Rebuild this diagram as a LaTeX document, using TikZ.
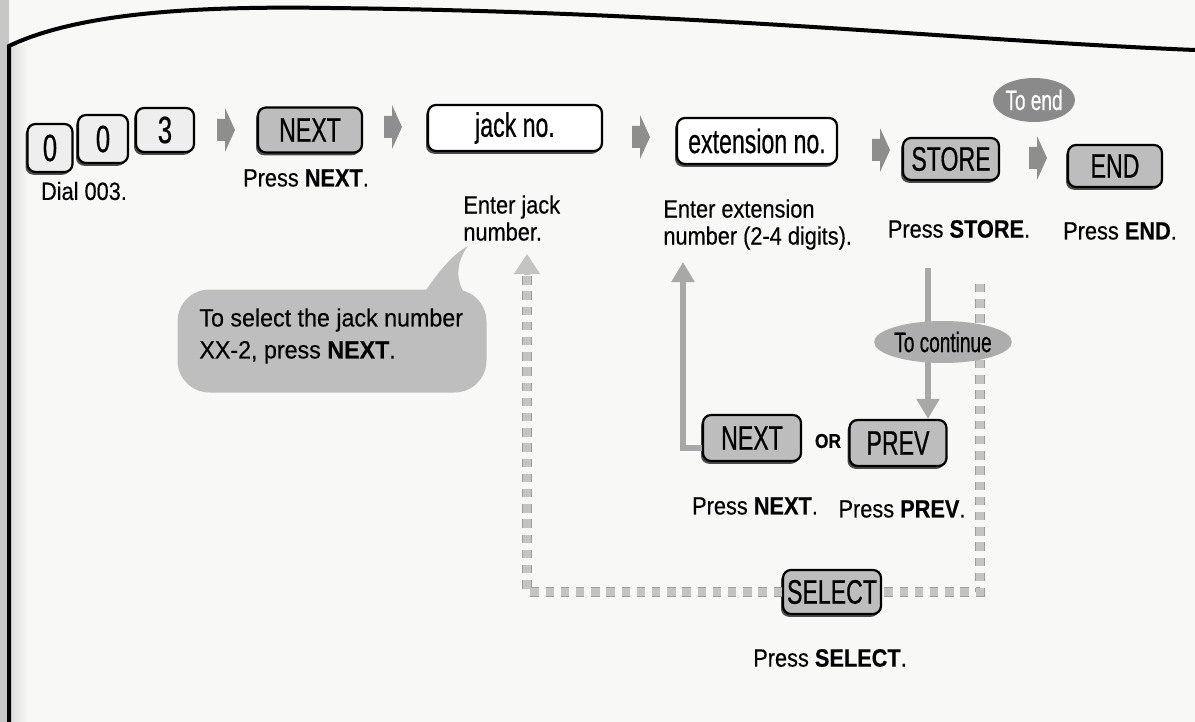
\documentclass[tikz,border=0pt]{standalone}
\usepackage{fontspec}
\setmainfont{Liberation Sans}[FakeStretch=0.87,FakeBold=0.3]
\newfontfamily\bubblefont{Liberation Sans}[FakeStretch=0.93,FakeBold=0.3]
\newfontfamily\btnfont{Liberation Sans}[FakeStretch=0.68,FakeBold=0.5]
\usetikzlibrary{shadows,shapes.geometric,arrows.meta,calc}
\definecolor{btngray}{HTML}{BDBDBD}
\definecolor{keyfill}{HTML}{EEEEEE}
\definecolor{arrowgray}{HTML}{8E8E8E}
\definecolor{pagebg}{HTML}{F8F8F6}
\definecolor{dashgray}{HTML}{C4C4C4}
\definecolor{dashedge}{HTML}{9E9E9E}
\definecolor{bubblegray}{HTML}{BEBEBE}
\definecolor{ovalgray}{HTML}{8A8A8A}
\definecolor{contgray}{HTML}{ADADAD}
\definecolor{solidgray}{HTML}{A8A8A8}
\newcommand\flowarr[1]{%
  \fill[arrowgray] ($#1+(-9,-11)$) -- ($#1+(-1,-11)$) -- ($#1+(-1,-22)$) -- ($#1+(9,0)$)
    -- ($#1+(-1,22)$) -- ($#1+(-1,11)$) -- ($#1+(-9,11)$) -- cycle;}
\tikzset{
  key/.style={draw=black, line width=1.1pt, rounded corners=4pt, fill=keyfill, inner sep=0pt,
    drop shadow={shadow xshift=-1pt, shadow yshift=-1.4pt, fill=black!70, opacity=1},
    font=\btnfont\fontsize{19}{21}\selectfont},
  btn/.style={key, fill=btngray, font=\btnfont\fontsize{17}{19}\selectfont},
  field/.style={key, fill=white, font=\btnfont\fontsize{17}{19}\selectfont},
  lbl/.style={font=\fontsize{12.5}{13.5}\selectfont, inner sep=0pt, align=left},
  solidarr/.style={draw=solidgray, line width=3pt, -{Triangle[length=10pt,width=11pt]}},
  dashedgeline/.style={draw=dashedge, line width=5pt, dash pattern=on 4.2pt off 3.4pt},
  dashpath/.style={draw=dashgray, line width=3.6pt, dash pattern=on 4.2pt off 3.4pt},
  dashtip/.style={-{Triangle[length=10pt,width=12.5pt,fill=dashgray,color=dashgray]}},
}
\begin{document}
\begin{tikzpicture}[x=0.5pt,y=-0.5pt]
\useasboundingbox (0,0) rectangle (1195,722);
% page background
\fill[pagebg] (0,0) rectangle (1195,722);
\fill[black!22] (0,0) rectangle (9,722);
\shade[left color=black!14, right color=pagebg] (9,46) rectangle (28,722);
\draw[line width=2pt, black] (9,722) -- (9,46) .. controls (80,12) and (200,6) .. (330,8) .. controls (700,12) and (950,40) .. (1195,50);

% top row
\node[key, minimum width=22.5pt, minimum height=24pt] (k1) at (50,148) {0};
\node[key, minimum width=25pt, minimum height=24pt] (k2) at (103,139) {0};
\node[key, minimum width=29pt, minimum height=22pt] (k3) at (165,130) {3};
\flowarr{(226,130)}
\node[btn, minimum width=52pt, minimum height=22.5pt] (next1) at (310,130) {NEXT};
\flowarr{(393,127)}
\node[field, minimum width=87pt, minimum height=23pt] (jack) at (515,128) {jack no.};
\flowarr{(641,137)}
\node[field, minimum width=80pt, minimum height=23pt] (ext) at (757,141) {extension no.};
\flowarr{(881,150)}
\node[btn, minimum width=48pt, minimum height=21pt] (store) at (951,159) {STORE};
\flowarr{(1038,158)}
\node[btn, minimum width=47pt, minimum height=21pt] (end) at (1115,166) {END};
\node[ellipse, fill=ovalgray, text=white, minimum width=41pt, minimum height=22pt, inner sep=0pt,
  font=\btnfont\fontsize{14}{16}\selectfont] (toend) at (1034,100) {To end};

% labels
\node[lbl] (l1) at (84,191) {Dial 003.};
\node[lbl] (l2) at (306,178) {Press \textbf{NEXT}.};
\node[lbl, anchor=north west] (l3) at (463,195) {Enter jack\\number.};
\node[lbl, anchor=north west] (l4) at (663,199) {Enter extension\\number (2-4 digits).};
\node[lbl] (l5) at (959,229) {Press \textbf{STORE}.};
\node[lbl] (l6) at (1120,231) {Press \textbf{END}.};

% speech bubble
\fill[bubblegray] (422,296) .. controls (438,272) and (452,255) .. (468,246)
   .. controls (456,262) and (455,280) .. (466,296) -- cycle;
\node[fill=bubblegray, rounded corners=16pt, minimum width=154.5pt, minimum height=51.5pt,
  inner sep=0pt] (bubble) at (332,341) {};
\node[anchor=west, align=left, inner sep=0pt, font=\bubblefont\fontsize{12.5}{16}\selectfont]
  (btext) at (199,336) {To select the jack number\\XX-2, press \textbf{NEXT}.};

% lower section
\node[btn, minimum width=49pt, minimum height=23pt] (next2) at (752,438) {NEXT};
\node[font=\fontsize{10}{12}\selectfont\bfseries, inner sep=0pt] (or) at (828,441) {OR};
\node[btn, minimum width=48.5pt, minimum height=23pt] (prev) at (898,443) {PREV};
\node[lbl] (l7) at (755,506) {Press \textbf{NEXT}.};
\node[lbl] (l8) at (902,509) {Press \textbf{PREV}.};
\node[btn, minimum width=49pt, minimum height=22pt] (select) at (832,592) {SELECT};
\node[lbl] (l9) at (830,658) {Press \textbf{SELECT}.};

% connectors
\coordinate (uptip) at (683,262);
\draw[solidarr] ($(next2.west)+(0,10)$) -| (uptip);
\coordinate (downstart) at (928,268);
\draw[solidarr] (downstart) -- (downstart |- prev.north);
\coordinate (dR) at (980,284);
\coordinate (dL) at (527,275);
\coordinate (dTip) at (527,254);
\draw[dashedgeline] (dR) |- (select.east);
\draw[dashpath] (dR) |- (select.east);
\draw[dashedgeline] (select.west) -| (dL);
\draw[dashpath] (select.west) -| (dL);
\draw[draw=dashgray, line width=3pt, dashtip] (dL) -- (dTip);
\node[ellipse, fill=contgray, minimum width=66pt, minimum height=21pt, inner sep=0pt,
  font=\btnfont\fontsize{14}{16}\selectfont] (cont) at (943,342) {To continue};
\end{tikzpicture}
\end{document}
